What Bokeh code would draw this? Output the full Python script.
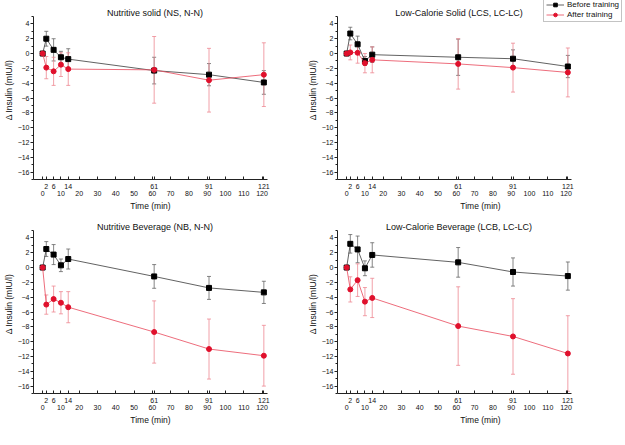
from bokeh.plotting import figure
from bokeh.layouts import column, row
from bokeh.models import (ColumnDataSource, Whisker, TeeHead, FixedTicker,
                          Range1d, Legend, LegendItem, Label)
from bokeh.embed import file_html
from bokeh.resources import INLINE

time = [0, 2, 6, 10, 14, 61, 91, 121]
top_tick_labels = [2, 6, 14, 61, 91, 121]
bottom_tick_labels = [0, 10, 20, 30, 40, 50, 60, 70, 80, 90, 100, 110, 120]
y_ticks = [-16, -14, -12, -10, -8, -6, -4, -2, 0, 2, 4]

titles = ["Nutritive solid (NS, N-N)", "Low-Calorie Solid (LCS, LC-LC)",
          "Nutritive Beverage (NB, N-N)", "Low-Calorie Beverage (LCB, LC-LC)"]

ns_before = [0, 2.0, 0.5, -0.5, -0.75, -2.3, -2.85, -3.9]
ns_before_err = [0, 1.0, 1.5, 0.8, 1.4, 1.8, 1.5, 1.6]
ns_after = [0, -1.9, -2.4, -1.5, -2.1, -2.2, -3.6, -2.85]
ns_after_err = [0, 1.5, 1.9, 1.6, 2.2, 4.5, 4.3, 4.3]

lcs_before = [0, 2.7, 1.25, -1.0, -0.15, -0.5, -0.7, -1.75]
lcs_before_err = [0, 0.85, 1.1, 0.6, 1.05, 2.45, 1.2, 1.5]
lcs_after = [0, 0.15, 0.1, -1.3, -0.85, -1.4, -1.9, -2.55]
lcs_after_err = [0, 1.0, 1.4, 1.3, 1.75, 3.4, 3.3, 3.3]

nb_before = [0, 2.5, 1.75, 0.3, 1.15, -1.2, -2.75, -3.35]
nb_before_err = [0, 1.0, 1.35, 0.85, 1.35, 1.6, 1.55, 1.5]
nb_after = [0, -5.0, -4.25, -4.75, -5.35, -8.7, -11.0, -11.9]
nb_after_err = [0, 1.3, 1.75, 1.5, 2.1, 4.2, 4.05, 4.1]

lcb_before = [0, 3.2, 2.45, -0.1, 1.7, 0.7, -0.6, -1.15]
lcb_before_err = [0, 1.25, 1.8, 1.0, 1.65, 2.0, 1.9, 1.9]
lcb_after = [0, -2.95, -1.7, -4.6, -4.1, -7.9, -9.3, -11.6]
lcb_after_err = [0, 1.7, 2.2, 1.9, 2.65, 5.3, 5.1, 5.1]

FONT = "Liberation Sans"
BLACK = "#000000"
BLACK_LINE = "#3a3a3a"
BLACK_ERR = "#666666"
RED = "#e0102c"
RED_LINE = "#e8485a"
RED_ERR = "#ee8892"
TXT = "#111111"

X0, X1 = -5, 123          # axis extent
Y0, Y1 = -17, 5
LEFT = 26                 # left border (px)
DATA_W = 234              # px used by the axis extent horizontally
TOP_ROOM = 16             # px above y=5 kept for the title
DATA_H = 163              # px for y from -17 to 5
FRAME_H = TOP_ROOM + DATA_H
BOTTOM = 35


def make_panel(title, before, berr, after, aerr, frame_w, right_border, legend=False):
    ppx = DATA_W / (X1 - X0)
    x_end = X0 + frame_w / ppx
    ppy = DATA_H / (Y1 - Y0)
    y_end = Y1 + TOP_ROOM / ppy
    p = figure(frame_width=frame_w, frame_height=FRAME_H, output_backend="svg",
               toolbar_location=None,
               x_range=Range1d(X0, x_end), y_range=Range1d(Y0, y_end),
               min_border_left=LEFT, min_border_right=right_border,
               min_border_top=0, min_border_bottom=BOTTOM)
    p.outline_line_color = None
    p.xgrid.visible = False
    p.ygrid.visible = False
    p.background_fill_color = "white"
    p.border_fill_color = "white"

    p.add_layout(Label(x=61.5, y=Y1 + 4 / ppy, text=title, text_align="center",
                       text_baseline="middle", text_font=FONT, text_font_size="9px",
                       text_color=TXT))

    # y axis
    ya = p.yaxis[0]
    ya.bounds = (Y0, Y1)
    ya.ticker = FixedTicker(ticks=y_ticks,
                            minor_ticks=[t + 1 for t in y_ticks[:-1]] + [Y0, Y1])
    ya.axis_label = "\u0394 Insulin (mIU/l)"
    ya.axis_label_text_font = FONT
    ya.axis_label_text_font_size = "8.5px"
    ya.axis_label_text_font_style = "normal"
    ya.axis_label_text_color = TXT
    ya.axis_label_standoff = 1
    ya.major_label_text_font = FONT
    ya.major_label_text_font_size = "7px"
    ya.major_label_text_color = TXT
    ya.major_label_standoff = 1
    ya.major_tick_out = 3
    ya.major_tick_in = 0
    ya.minor_tick_out = 2
    ya.minor_tick_in = 0
    ya.axis_line_color = "#222222"
    ya.major_tick_line_color = "#222222"
    ya.minor_tick_line_color = "#222222"

    # x axis: two rows of labels (2 6 14 61 91 121 / 0 10 ... 120)
    xa = p.xaxis[0]
    xa.bounds = (X0, X1)
    all_ticks = sorted(set(bottom_tick_labels + time))
    xa.ticker = FixedTicker(ticks=all_ticks, minor_ticks=[])
    ov = {}
    for t in all_ticks:
        if t in top_tick_labels:
            ov[t] = str(t)
        elif t in bottom_tick_labels:
            ov[t] = "\n" + str(t)
        else:
            ov[t] = ""
    xa.major_label_overrides = ov
    xa.major_label_text_font = FONT
    xa.major_label_text_font_size = "7px"
    xa.major_label_text_line_height = 1.1
    xa.major_label_text_color = TXT
    xa.major_label_standoff = 3
    xa.major_tick_in = 3
    xa.major_tick_out = 0
    xa.minor_tick_in = 0
    xa.minor_tick_out = 0
    xa.axis_line_color = "#222222"
    xa.major_tick_line_color = "#222222"
    xa.axis_label = "Time (min)"
    xa.axis_label_text_font = FONT
    xa.axis_label_text_font_size = "8.5px"
    xa.axis_label_text_font_style = "normal"
    xa.axis_label_text_color = TXT
    xa.axis_label_standoff = 1

    bsrc = ColumnDataSource(dict(x=time, y=before,
                                 lo=[v - e for v, e in zip(before, berr)],
                                 hi=[v + e for v, e in zip(before, berr)]))
    asrc = ColumnDataSource(dict(x=time, y=after,
                                 lo=[v - e for v, e in zip(after, aerr)],
                                 hi=[v + e for v, e in zip(after, aerr)]))

    bl = p.line("x", "y", source=bsrc, line_color=BLACK_LINE, line_width=0.8)
    p.add_layout(Whisker(source=bsrc, base="x", lower="lo", upper="hi",
                         line_color=BLACK_ERR, line_width=0.8,
                         upper_head=TeeHead(size=4, line_color=BLACK_ERR, line_width=0.8),
                         lower_head=TeeHead(size=4, line_color=BLACK_ERR, line_width=0.8)))
    bm = p.scatter("x", "y", source=bsrc, marker="square", size=5,
                   fill_color=BLACK, line_color=BLACK)

    al = p.line("x", "y", source=asrc, line_color=RED_LINE, line_width=0.8)
    p.add_layout(Whisker(source=asrc, base="x", lower="lo", upper="hi",
                         line_color=RED_ERR, line_width=0.8,
                         upper_head=TeeHead(size=4, line_color=RED_ERR, line_width=0.8),
                         lower_head=TeeHead(size=4, line_color=RED_ERR, line_width=0.8)))
    am = p.scatter("x", "y", source=asrc, marker="circle", size=5,
                   fill_color=RED, line_color=RED)

    if legend:
        lg = Legend(items=[LegendItem(label="Before training", renderers=[bl, bm]),
                           LegendItem(label="After training", renderers=[al, am])],
                    location=(frame_w - 80, FRAME_H - 22))
        lg.label_text_font = FONT
        lg.label_text_font_size = "8px"
        lg.label_text_color = TXT
        lg.label_height = 9
        lg.label_standoff = 3
        lg.glyph_height = 9
        lg.glyph_width = 18
        lg.spacing = 1
        lg.padding = 2
        lg.margin = 0
        lg.border_line_color = "#888888"
        lg.border_line_width = 1
        lg.background_fill_color = "white"
        lg.background_fill_alpha = 1
        p.add_layout(lg, "center")
    return p


FW_LEFT, RB_LEFT = DATA_W, 37
FW_RIGHT, RB_RIGHT = 609 - (LEFT + FW_LEFT + RB_LEFT) - LEFT, 0
p1 = make_panel(titles[0], ns_before, ns_before_err, ns_after, ns_after_err, FW_LEFT, RB_LEFT)
p2 = make_panel(titles[1], lcs_before, lcs_before_err, lcs_after, lcs_after_err, FW_RIGHT, RB_RIGHT, legend=True)
p3 = make_panel(titles[2], nb_before, nb_before_err, nb_after, nb_after_err, FW_LEFT, RB_LEFT)
p4 = make_panel(titles[3], lcb_before, lcb_before_err, lcb_after, lcb_after_err, FW_RIGHT, RB_RIGHT)

layout = column(row(p1, p2), row(p3, p4))
open("out.html", "w").write(file_html(layout, INLINE))
